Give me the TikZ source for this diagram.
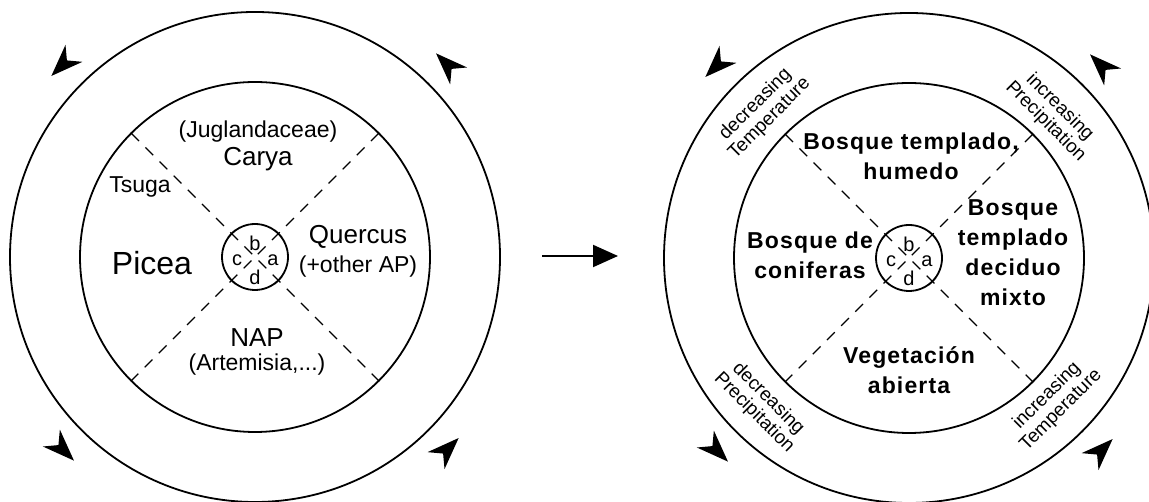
\documentclass[tikz,border=0pt]{standalone}
\usepackage{fontspec}
\setmainfont{Liberation Sans}
\newfontfamily\biomefont[LetterSpace=5]{Liberation Sans}
\usetikzlibrary{calc, arrows.meta}
\tikzset{
  ring/.style     = {draw, line width=0.9pt},
  diag/.style     = {line width=0.6pt, dash pattern=on 5.5pt off 4.5pt},
  taxon/.style    = {inner sep=0pt, font=\fontsize{11.5}{14}\selectfont},
  major/.style    = {inner sep=0pt, font=\fontsize{13}{15}\selectfont},
  biome/.style    = {inner sep=0pt, align=center,
                     font=\biomefont\bfseries\fontsize{11.5}{15}\selectfont},
  trend/.style    = {inner sep=0pt, align=center, font=\fontsize{9.5}{10}\selectfont},
  lettr/.style    = {inner sep=0pt, font=\fontsize{10}{12}\selectfont},
  goarrow/.style  = {-{Triangle[length=12.5pt, width=11pt]}, line width=1pt},
  cyclehead/.pic  = {\fill (16,0) -- (-16,12) -- (-6,0) -- (-16,-12) -- cycle;},
  tickmark/.pic   = {\draw[line width=0.6pt] (0,-5) -- (0,5);},
}
\begin{document}
\begin{tikzpicture}[x=0.5pt, y=0.5pt]
  \useasboundingbox (0,0) rectangle (1149,502);
  \coordinate (L) at (255,245);
  \coordinate (R) at (909,244);

  % ---- both wheels: rings, quadrant lines, turning arrows ----
  \foreach \c in {L,R} {
    \draw[ring] (\c) circle (245);
    \draw[ring] (\c) circle (175);
    \draw[ring] (\c) circle (33);
    \draw[diag] ($(\c)+(135:175)$) -- ($(\c)+(-45:175)$);
    \draw[diag] ($(\c)+(45:175)$) -- ($(\c)+(-135:175)$);
    \foreach \a in {45,135,225,315} {
      \pic[rotate=\a] at ($(\c)+(\a:175)$) {tickmark};
      \pic[rotate=\a] at ($(\c)+(\a:33)$) {tickmark};
      \pic[rotate=\a+90] at ($(\c)+(\a:272)$) {cyclehead};
    }
    \node[lettr] (\c-b) at ($(\c)+(0,14)$) {b};
    \node[lettr] (\c-c) at ($(\c)+(-18,-3)$) {c};
    \node[lettr] (\c-a) at ($(\c)+(18,-3)$) {a};
    \node[lettr] (\c-d) at ($(\c)+(0,-20)$) {d};
  }

  % ---- left: pollen taxa ----
  \node[taxon] (jug) at (258,370) {(Juglandaceae)};
  \node[major] (carya) at (258,343) {Carya};
  \node[taxon] (tsuga) at (140,315) {Tsuga};
  \node[inner sep=0pt, font=\fontsize{16}{18}\selectfont] (picea) at (152,239) {Picea};
  \node[major] (quercus) at (358,265) {Quercus};
  \node[taxon] (otherap) at (358,235) {(+other AP)};
  \node[major] (nap) at (257,164) {NAP};
  \node[taxon] (artem) at (257,137) {(Artemisia,...)};

  % ---- middle arrow ----
  \coordinate (gofrom) at (542,246);
  \coordinate (goto) at (618,246);
  \draw[goarrow] (gofrom) -- (goto);

  % ---- right: vegetation types ----
  \node[biome] (humid) at (911,346) {Bosque templado,\\humedo};
  \node[biome] (conif) at (810,247) {Bosque de\\coniferas};
  \node[biome] (decid) at (1013,249) {Bosque\\templado\\deciduo\\mixto};
  \node[biome] (open) at (909,132) {Vegetación\\abierta};

  \node[trend, rotate=45] (tempdown) at ($(R)+(135:207)$) {decreasing\\Temperature};
  \node[trend, rotate=-45] (precup) at ($(R)+(45:203)$) {increasing\\Precipitation};
  \node[trend, rotate=-45] (precdown) at ($(R)+(225:209)$) {decreasing\\Precipitation};
  \node[trend, rotate=45] (tempup) at ($(R)+(315:205)$) {increasing\\Temperature};
\end{tikzpicture}
\end{document}
